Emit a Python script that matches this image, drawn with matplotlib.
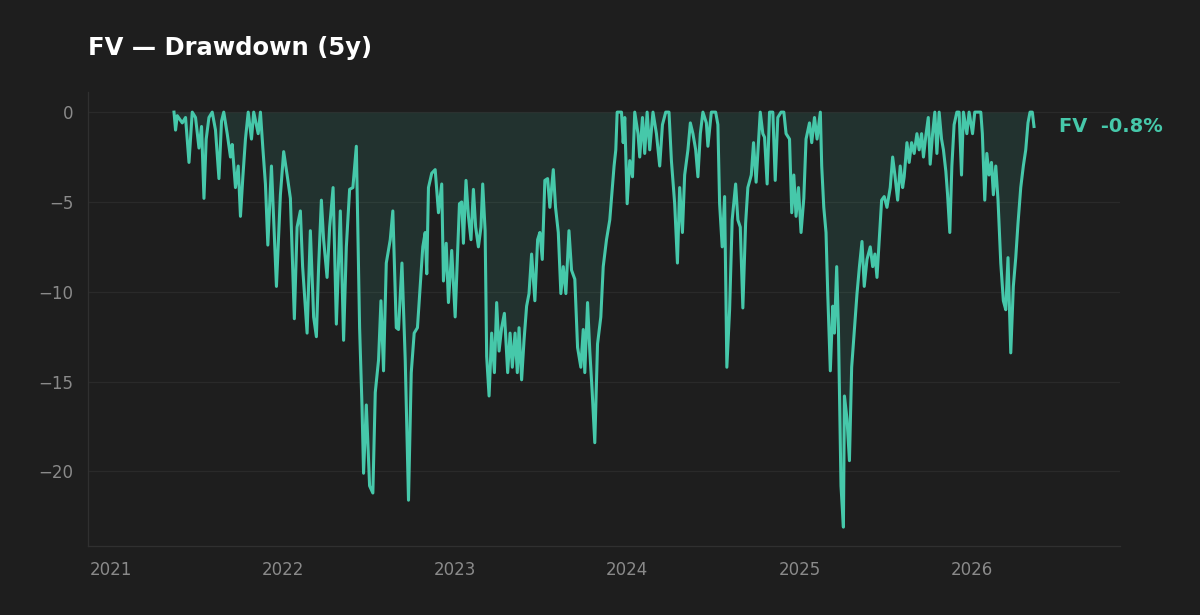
import numpy as np
import pandas as pd
import matplotlib
matplotlib.use("Agg")
import matplotlib.pyplot as plt
import matplotlib.dates as mdates

ticker = "FV"
title = "FV — Drawdown (5y)"

# observation times (decimal years) and drawdown values (%)
t_years = [
    2021.367, 2021.376, 2021.386, 2021.415, 2021.434, 2021.454, 2021.473, 2021.492, 2021.512, 2021.527,
    2021.541, 2021.554, 2021.570, 2021.589, 2021.608, 2021.628, 2021.643, 2021.656, 2021.676, 2021.695,
    2021.705, 2021.724, 2021.740, 2021.753, 2021.767, 2021.782, 2021.798, 2021.817, 2021.830, 2021.856,
    2021.869, 2021.883, 2021.898, 2021.912, 2021.933, 2021.946, 2021.962, 2021.985, 2022.004, 2022.024,
    2022.043, 2022.066, 2022.082, 2022.101, 2022.114, 2022.140, 2022.159, 2022.178,
    2022.194, 2022.207, 2022.223, 2022.236, 2022.256, 2022.271, 2022.291, 2022.310, 2022.333, 2022.352,
    2022.368, 2022.387, 2022.406, 2022.426, 2022.445, 2022.459, 2022.468, 2022.484, 2022.503, 2022.522,
    2022.536, 2022.555, 2022.569, 2022.584, 2022.600, 2022.623, 2022.638, 2022.658, 2022.671, 2022.691,
    2022.710, 2022.729, 2022.745, 2022.762, 2022.781, 2022.797, 2022.812, 2022.826, 2022.835, 2022.845,
    2022.864, 2022.884, 2022.903, 2022.922, 2022.932, 2022.948, 2022.961, 2022.980, 2023.000, 2023.025,
    2023.038, 2023.048, 2023.063, 2023.077, 2023.092, 2023.106, 2023.119, 2023.135, 2023.150, 2023.160,
    2023.174, 2023.183, 2023.197, 2023.212, 2023.228, 2023.241, 2023.255, 2023.270, 2023.286, 2023.305,
    2023.319, 2023.332, 2023.348, 2023.361, 2023.371, 2023.386, 2023.400, 2023.415, 2023.429, 2023.444,
    2023.463, 2023.479, 2023.492, 2023.506, 2023.521, 2023.537, 2023.550, 2023.570, 2023.583, 2023.599,
    2023.614, 2023.628, 2023.643, 2023.661, 2023.676, 2023.695, 2023.711, 2023.730, 2023.744, 2023.753,
    2023.769, 2023.782, 2023.796, 2023.811, 2023.827, 2023.846, 2023.860, 2023.879, 2023.898, 2023.923,
    2023.933, 2023.941,
    2023.966, 2023.976, 2023.985, 2023.999, 2024.014, 2024.030, 2024.043, 2024.062, 2024.072, 2024.088,
    2024.101, 2024.115, 2024.130, 2024.149, 2024.169, 2024.188, 2024.204, 2024.223, 2024.242, 2024.256,
    2024.275, 2024.291, 2024.304, 2024.320, 2024.333, 2024.352, 2024.366, 2024.381, 2024.397, 2024.410,
    2024.424, 2024.439, 2024.459, 2024.468, 2024.488, 2024.513, 2024.526, 2024.536, 2024.551, 2024.565,
    2024.578, 2024.594, 2024.609, 2024.629, 2024.642, 2024.656, 2024.671, 2024.687, 2024.700, 2024.720,
    2024.733, 2024.748, 2024.772, 2024.787,
    2024.797, 2024.812, 2024.826, 2024.845, 2024.859, 2024.874, 2024.893, 2024.909, 2024.922, 2024.942,
    2024.955, 2024.967, 2024.980, 2024.994, 2025.009, 2025.025, 2025.038, 2025.058, 2025.071, 2025.087,
    2025.102, 2025.121, 2025.129, 2025.141, 2025.154, 2025.164, 2025.179, 2025.193, 2025.203, 2025.216,
    2025.226, 2025.241, 2025.255, 2025.261, 2025.276, 2025.290, 2025.303, 2025.319, 2025.334, 2025.348,
    2025.363, 2025.376, 2025.392, 2025.411, 2025.425, 2025.438, 2025.450, 2025.463, 2025.477, 2025.492,
    2025.508, 2025.527, 2025.541, 2025.554, 2025.570, 2025.585, 2025.599,
    2025.608, 2025.624, 2025.637, 2025.651, 2025.666, 2025.682, 2025.695, 2025.709, 2025.720, 2025.734,
    2025.748, 2025.759, 2025.773, 2025.786, 2025.798, 2025.811, 2025.825, 2025.836, 2025.850, 2025.860,
    2025.873, 2025.885, 2025.898, 2025.914, 2025.927, 2025.941, 2025.952, 2025.972, 2025.985, 2026.005,
    2026.018, 2026.053, 2026.062, 2026.076, 2026.088, 2026.101, 2026.115, 2026.126, 2026.140, 2026.153,
    2026.169, 2026.184, 2026.198, 2026.211, 2026.227, 2026.242, 2026.256, 2026.269, 2026.285, 2026.300,
    2026.314, 2026.327, 2026.339, 2026.352, 2026.362,
]

drawdown = [
    0.0, -1.0, -0.2, -0.6, -0.3, -2.8, 0.0, -0.3, -2.0, -0.8,
    -4.8, -1.5, -0.3, 0.0, -1.0, -3.7, -0.5, 0.0, -1.2, -2.5,
    -1.8, -4.2, -3.0, -5.8, -3.6, -1.5, 0.0, -1.5, 0.0, -1.2,
    0.0, -2.0, -4.0, -7.4, -3.0, -6.0, -9.7, -4.6, -2.2, -3.5,
    -4.8, -11.5, -6.4, -5.5, -8.6, -12.3, -6.6, -11.4,
    -12.5, -8.6, -4.9, -7.1, -9.2, -6.4, -4.2, -11.8, -5.5, -12.7,
    -7.5, -4.3, -4.2, -1.9, -12.0, -16.4, -20.1, -16.3, -20.8, -21.2,
    -15.6, -13.8, -10.5, -14.4, -8.4, -7.1, -5.5, -12.0, -12.1, -8.4,
    -13.8, -21.6, -14.5, -12.3, -12.0, -9.7, -7.5, -6.7, -9.0, -4.2,
    -3.4, -3.2, -5.6, -4.0, -9.4, -7.3, -10.6, -7.7, -11.4, -5.1,
    -5.0, -7.3, -3.8, -5.8, -7.1, -4.3, -6.4, -7.5, -6.4, -4.0,
    -6.6, -13.6, -15.8, -12.3, -14.5, -10.6, -13.3, -12.0, -11.2, -14.5,
    -12.3, -14.2, -12.3, -14.5, -12.0, -14.9, -12.7, -10.8, -10.1, -7.9,
    -10.5, -7.1, -6.7, -8.2, -3.8, -3.7, -5.3, -3.2, -5.3, -6.7,
    -10.1, -8.6, -10.1, -6.6, -8.8, -9.3, -13.1, -14.2, -12.1, -14.5,
    -10.6, -13.3, -15.6, -18.4, -12.9, -11.4, -8.6, -7.1, -6.0, -3.0,
    -2.1, 0.0,
    0.0, -1.7, -0.3, -5.1, -2.7, -3.6, 0.0, -1.2, -2.5, -0.3,
    -2.3, 0.0, -2.1, 0.0, -1.2, -3.0, -0.7, 0.0, 0.0, -2.7,
    -5.1, -8.4, -4.2, -6.7, -3.5, -2.1, -0.6, -1.2, -2.1, -3.6,
    -1.2, 0.0, -0.6, -1.9, 0.0, 0.0, -0.7, -5.1, -7.5, -4.7,
    -14.2, -11.0, -6.0, -4.0, -6.0, -6.4, -10.9, -6.2, -4.2, -3.5,
    -1.7, -3.9, 0.0, -1.2,
    -1.4, -4.0, 0.0, 0.0, -3.8, -0.3, 0.0, 0.0, -1.2, -1.5,
    -5.6, -3.5, -5.8, -4.2, -6.7, -4.8, -1.5, -0.6, -1.7, -0.3,
    -1.5, 0.0, -3.0, -5.3, -6.7, -10.1, -14.4, -10.8, -12.3, -8.6,
    -12.0, -20.8, -23.1, -15.8, -17.1, -19.4, -14.2, -12.1, -10.1, -8.6,
    -7.2, -9.7, -8.2, -7.5, -8.6, -7.9, -9.2, -7.1, -4.9, -4.7,
    -5.3, -4.2, -2.5, -3.5, -4.9, -3.0, -4.2,
    -3.6, -1.7, -2.8, -1.7, -2.3, -1.2, -2.1, -1.2, -2.5, -1.3,
    -0.3, -2.9, -1.2, 0.0, -2.3, 0.0, -1.5, -2.1, -3.3, -4.6,
    -6.7, -3.0, -0.7, 0.0, 0.0, -3.5, 0.0, -1.2, 0.0, -1.2,
    0.0, 0.0, -1.2, -4.9, -2.3, -3.5, -2.8, -4.6, -3.0, -4.9,
    -8.4, -10.5, -11.0, -8.1, -13.4, -9.7, -8.1, -6.2, -4.2, -3.0,
    -2.1, -0.6, 0.0, 0.0, -0.8,
]

y_ticks = [0, -5, -10, -15, -20]

BG = "#1e1e1e"
TEAL = "#46c8aa"
GRID = "#2a2a2a"
SPINE = "#303030"
TICK = "#8a8a8a"

t = np.array(t_years)
dates = pd.Timestamp("2021-01-01") + pd.to_timedelta((t - 2021.0) * 365.25, unit="D")
dd = np.array(drawdown)

fig = plt.figure(figsize=(12, 6.15), dpi=100, facecolor=BG)
ax = fig.add_axes([88 / 1200, 1 - 546 / 615, (1120 - 88) / 1200, (546 - 92) / 615])
ax.set_facecolor(BG)

ax.fill_between(dates, dd, 0, color=TEAL, alpha=0.12, linewidth=0)
ax.plot(dates, dd, color=TEAL, linewidth=2.2, solid_joinstyle="round")

span = dates[-1] - dates[0]
ax.set_xlim(dates[0] - span * 0.1, dates[-1] + span * 0.1)
ax.set_ylim(-24.15, 1.12)

ax.set_yticks(y_ticks)
ax.xaxis.set_major_locator(mdates.YearLocator())
ax.xaxis.set_major_formatter(mdates.DateFormatter("%Y"))

ax.yaxis.grid(True, color=GRID, linewidth=0.9)
ax.xaxis.grid(False)
ax.set_axisbelow(True)

for s in ("top", "right"):
    ax.spines[s].set_visible(False)
for s in ("left", "bottom"):
    ax.spines[s].set_color(SPINE)
    ax.spines[s].set_linewidth(0.9)

ax.tick_params(axis="both", length=0, colors=TICK, labelsize=12)
ax.tick_params(axis="x", pad=10.5)
ax.tick_params(axis="y", pad=10.5)

ax.set_title(title, loc="left", color="white", fontsize=17.5,
             fontweight="bold", pad=26.5)

ax.annotate(f"{ticker}  {dd[-1]:.1f}%", xy=(dates[-1], dd[-1]),
            xytext=(18, 0), textcoords="offset points",
            color=TEAL, fontsize=14, fontweight="bold",
            ha="left", va="center", annotation_clip=False)

fig.savefig("out.png", dpi=100, facecolor=BG)
